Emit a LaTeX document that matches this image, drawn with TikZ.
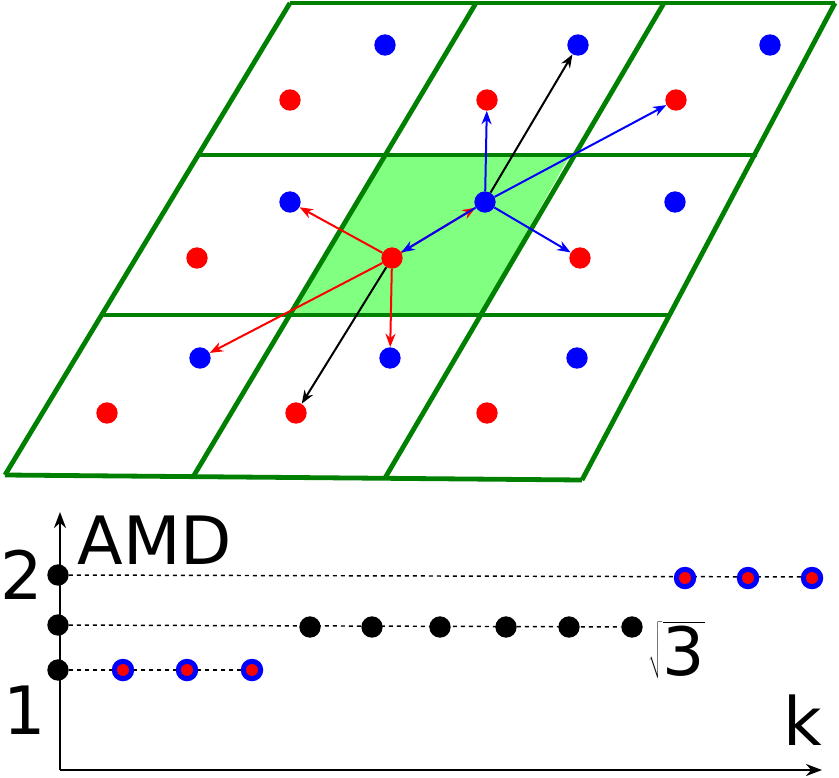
\documentclass[tikz,border=0pt]{standalone}
\usepackage{fontspec}
\setmainfont{DejaVu Sans}
\usetikzlibrary{arrows.meta}
\tikzset{
  cell/.style={draw=green!50!black,line width=3.6pt},
  rdot/.style={circle,fill=red,inner sep=0pt,minimum size=16pt},
  bdot/.style={circle,fill=blue,inner sep=0pt,minimum size=16pt},
  kdot/.style={circle,fill=black,inner sep=0pt,minimum size=16pt},
  mdot/.style={circle,fill=red,draw=blue,line width=3.8pt,inner sep=0pt,minimum size=13pt},
  rarr/.style={-{Stealth[length=10pt]},red,line width=1.5pt},
  barr/.style={-{Stealth[length=10pt]},blue,line width=1.5pt},
  karr/.style={-{Stealth[length=10pt]},black,line width=1.5pt},
  lbl/.style={font=\fontsize{50}{56}\selectfont,inner sep=0pt}
}
\begin{document}
\begin{tikzpicture}[x=0.75pt,y=-0.75pt]
  \useasboundingbox (0,0) rectangle (839,778);
  % shaded cell
  \fill[green!50] (385,155) -- (570,155) -- (480,315) -- (293,315) -- cycle;
  % lattice
  \draw[cell] (290,3) -- (835,3);
  \draw[cell] (197,155) -- (757,155);
  \draw[cell] (103,315) -- (668,315);
  \draw[cell] (5,475) -- (582,480);
  \draw[cell] (290,3) -- (5,475);
  \draw[cell] (476,3) -- (193,477);
  \draw[cell] (664,3) -- (385,478);
  \draw[cell] (835,3) -- (582,480);
  % atoms
  \node[rdot] (r1) at (290,100) {};
  \node[rdot] (r2) at (487,100) {};
  \node[rdot] (r3) at (676,100) {};
  \node[bdot] (b1) at (385,45) {};
  \node[bdot] (b2) at (578,45) {};
  \node[bdot] (b3) at (770,45) {};
  \node[bdot] (b4) at (290,202) {};
  \node[bdot] (b5) at (485,202) {};
  \node[bdot] (b6) at (675,202) {};
  \node[rdot] (r4) at (197,258) {};
  \node[rdot] (r5) at (392,258) {};
  \node[rdot] (r6) at (580,258) {};
  \node[bdot] (b7) at (200,358) {};
  \node[bdot] (b8) at (390,358) {};
  \node[bdot] (b9) at (577,358) {};
  \node[rdot] (r7) at (107,413) {};
  \node[rdot] (r8) at (296,413) {};
  \node[rdot] (r9) at (487,413) {};
  % neighbour vectors
  \draw[rarr] (r5) -- (b4);
  \draw[rarr] (r5) -- (b5);
  \draw[rarr] (r5) -- (b7);
  \draw[rarr] (r5) -- (b8);
  \draw[karr] (r5) -- (r8);
  \draw[barr] (b5) -- (r2);
  \draw[barr] (b5) -- (r6);
  \draw[barr] (b5) -- (r5);
  \draw[barr] (b5) -- (r3);
  \draw[karr] (b5) -- (b2);
  % plot
  \coordinate (o) at (60,770);
  \coordinate (ytop) at (60,512);
  \coordinate (xend) at (822,770);
  \draw[-{Stealth[length=12pt]},line width=2pt] (o) -- (ytop);
  \draw[-{Stealth[length=12pt]},line width=2pt] (o) -- (xend);
  \node[kdot] (y2) at (58,575) {};
  \node[kdot] (y3) at (58,625) {};
  \node[kdot] (y1) at (58,670) {};
  \coordinate (e2) at (815,577);
  \coordinate (e1) at (252,670);
  \node[kdot] (k1) at (310,627) {};
  \node[kdot] (k2) at (372,627) {};
  \node[kdot] (k3) at (440,627) {};
  \node[kdot] (k4) at (506,627) {};
  \node[kdot] (k5) at (569,627) {};
  \node[kdot] (k6) at (632,627) {};
  \draw[dashed,line width=1.1pt] (y2) -- (e2);
  \draw[dashed,line width=1.1pt] (y3) -- (k6);
  \draw[dashed,line width=1.1pt] (y1) -- (e1);
  \node[mdot] (m1) at (123,670) {};
  \node[mdot] (m2) at (187,670) {};
  \node[mdot] (m3) at (252,670) {};
  \node[mdot] (m4) at (685,578) {};
  \node[mdot] (m5) at (748,578) {};
  \node[mdot] (m6) at (812,578) {};
  \node[lbl] (amd) at (155,540) {AMD};
  \node[lbl] (two) at (22,575) {2};
  \node[lbl] (one) at (25,710) {1};
  \node[lbl] (k) at (803,720) {k};
  \node[lbl] (s3) at (677,650) {$\sqrt{\mbox{3}}$};
\end{tikzpicture}
\end{document}
